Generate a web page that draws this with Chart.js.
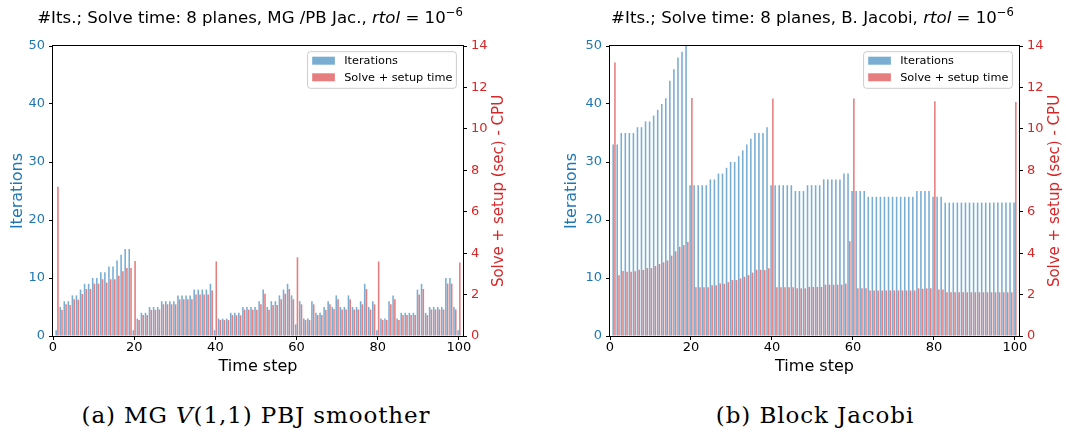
<!DOCTYPE html>
<html>
<head>
<meta charset="utf-8">
<script src="https://cdn.jsdelivr.net/npm/chart.js@4.4.1/dist/chart.umd.min.js"></script>
<style>
  html, body { margin: 0; padding: 0; background: #fff; }
  #wrap { position: relative; width: 1066px; height: 436px; overflow: hidden; }
  .box { position: absolute; top: 0; height: 380px; }
  .cap { position: absolute; top: 400px; font-family: "DejaVu Serif", serif; font-size: 23px; letter-spacing: 0.9px;
         color: #000; white-space: nowrap; transform: translateX(-50%); line-height: 30px; }
</style>
</head>
<body>
<div id="wrap">
  <div class="box" style="left:0;width:533px"><canvas id="chartMG" width="533" height="380"></canvas></div>
  <div class="box" style="left:555px;width:511px"><canvas id="chartBJ" width="511" height="380"></canvas></div>
  <div class="cap" style="left:256px">(a) MG <i>V</i>(1,1) PBJ smoother</div>
  <div class="cap" style="left:815px">(b) Block Jacobi</div>
</div>
<script>
// time steps
var steps = [
  1, 2, 3, 4, 5, 6, 7, 8, 9, 10, 11, 12, 13, 14, 15, 16, 17, 18, 19, 20,
  21, 22, 23, 24, 25, 26, 27, 28, 29, 30, 31, 32, 33, 34, 35, 36, 37, 38, 39, 40,
  41, 42, 43, 44, 45, 46, 47, 48, 49, 50, 51, 52, 53, 54, 55, 56, 57, 58, 59, 60,
  61, 62, 63, 64, 65, 66, 67, 68, 69, 70, 71, 72, 73, 74, 75, 76, 77, 78, 79, 80,
  81, 82, 83, 84, 85, 86, 87, 88, 89, 90, 91, 92, 93, 94, 95, 96, 97, 98, 99, 100
];

// (a) MG V(1,1) PBJ smoother
var mgIterations = [
  1, 5, 6, 6, 7, 7, 8, 9, 9, 10, 10, 11, 11, 12, 12, 13, 14, 15, 15, 1,
  3, 4, 4, 5, 5, 5, 6, 6, 6, 6, 7, 7, 7, 7, 8, 8, 8, 8, 9, 1,
  3, 3, 3, 4, 4, 4, 5, 5, 5, 5, 6, 8, 5, 6, 6, 7, 8, 9, 7, 2,
  6, 3, 3, 6, 4, 4, 5, 6, 5, 7, 5, 5, 7, 5, 5, 6, 9, 5, 6, 1,
  3, 3, 6, 7, 3, 4, 4, 4, 4, 8, 9, 4, 5, 5, 5, 5, 10, 10, 5, 1
];
var mgSolveTime = [
  7.2, 1.26, 1.53, 1.5, 1.77, 1.75, 2.03, 2.27, 2.27, 2.53, 2.53, 2.74, 2.58, 2.74, 2.74, 2.91, 3.12, 3.28, 3.28, 3.62,
  0.77, 1.01, 1.01, 1.26, 1.26, 1.28, 1.53, 1.53, 1.53, 1.53, 1.77, 1.77, 1.77, 1.77, 2.0, 2.0, 2.0, 2.0, 2.2, 3.6,
  0.77, 0.77, 0.77, 1.01, 1.0, 1.0, 1.27, 1.27, 1.27, 1.27, 1.53, 2.04, 1.27, 1.5, 1.5, 1.77, 2.04, 2.27, 1.77, 3.8,
  1.53, 0.77, 0.77, 1.53, 1.01, 1.01, 1.26, 1.53, 1.3, 1.77, 1.28, 1.28, 1.77, 1.28, 1.28, 1.53, 2.27, 1.28, 1.53, 3.6,
  0.77, 0.77, 1.53, 1.77, 0.77, 1.01, 1.01, 1.01, 1.01, 2.0, 2.27, 1.01, 1.28, 1.28, 1.28, 1.28, 2.53, 2.53, 1.28, 3.55
];

// (b) Block Jacobi
var bjIterations = [
  33, 33, 35, 35, 35, 35, 36, 36, 37, 37, 38, 39, 40, 41, 44, 46, 48, 49, 50, 26,
  26, 26, 26, 26, 27, 27, 28, 28, 29, 30, 30, 31, 32, 33, 34, 35, 35, 35, 36, 26,
  26, 26, 26, 26, 26, 25, 25, 25, 26, 26, 26, 26, 27, 27, 27, 27, 27, 28, 28, 25,
  25, 25, 25, 24, 24, 24, 24, 24, 24, 24, 24, 24, 24, 24, 24, 25, 25, 25, 25, 24,
  24, 24, 23, 23, 23, 23, 23, 23, 23, 23, 23, 23, 23, 23, 23, 23, 23, 23, 23, 23
];
var bjSolveTime = [
  13.2, 2.93, 3.14, 3.1, 3.1, 3.12, 3.2, 3.19, 3.28, 3.28, 3.38, 3.48, 3.56, 3.65, 3.88, 4.09, 4.31, 4.39, 4.54, 11.49,
  2.35, 2.35, 2.35, 2.35, 2.45, 2.45, 2.54, 2.52, 2.6, 2.7, 2.7, 2.78, 2.86, 2.94, 3.06, 3.2, 3.2, 3.18, 3.27, 11.46,
  2.35, 2.35, 2.35, 2.35, 2.35, 2.3, 2.3, 2.3, 2.37, 2.37, 2.37, 2.37, 2.48, 2.48, 2.48, 2.48, 2.48, 2.53, 4.58, 11.46,
  2.3, 2.3, 2.3, 2.2, 2.2, 2.2, 2.2, 2.2, 2.2, 2.2, 2.2, 2.2, 2.2, 2.2, 2.2, 2.3, 2.28, 2.3, 2.3, 11.33,
  2.24, 2.24, 2.11, 2.11, 2.11, 2.11, 2.11, 2.11, 2.11, 2.11, 2.11, 2.11, 2.11, 2.11, 2.11, 2.11, 2.11, 2.11, 2.11, 11.3
];

var BLUE = '#1f77b4', RED = '#d62728';
var FONT = '"DejaVu Sans", sans-serif';

function pairs(values) {
  return steps.map(function (s, i) { return { x: s, y: values[i] }; });
}

// matplotlib-like frame, title, right axis label and legend
var figurePlugin = {
  id: 'figure',
  beforeDraw: function (chart) {
    var ctx = chart.ctx;
    ctx.save();
    ctx.fillStyle = '#fff';
    ctx.fillRect(0, 0, chart.width, chart.height);
    ctx.restore();
  },
  afterDraw: function (chart, args, opts) {
    var ctx = chart.ctx, a = chart.chartArea;
    ctx.save();

    // spines
    ctx.strokeStyle = '#000';
    ctx.lineWidth = 1;
    ctx.strokeRect(Math.round(a.left) - 0.5, Math.round(a.top) - 0.5,
                   Math.round(a.right) - Math.round(a.left) + 1, Math.round(a.bottom) - Math.round(a.top) + 1);

    // title: lead text, italic rtol, = 10^-6
    var parts = [
      { t: opts.lead, f: '16.6px ' + FONT, dy: 0 },
      { t: 'rtol', f: 'italic 16.6px ' + FONT, dy: 0 },
      { t: ' = 10', f: '16.6px ' + FONT, dy: 0 },
      { t: '\u22126', f: '11.6px ' + FONT, dy: -7 }
    ];
    var total = 0;
    parts.forEach(function (p) { ctx.font = p.f; p.w = ctx.measureText(p.t).width; total += p.w; });
    var x = (a.left + a.right) / 2 + opts.shift - total / 2;
    ctx.fillStyle = '#000';
    ctx.textBaseline = 'alphabetic';
    ctx.textAlign = 'left';
    parts.forEach(function (p) { ctx.font = p.f; ctx.fillText(p.t, x, 23 + p.dy); x += p.w; });

    // right axis label, reading bottom to top
    ctx.save();
    ctx.translate(a.right + 36.5, (a.top + a.bottom) / 2);
    ctx.rotate(-Math.PI / 2);
    ctx.font = '15px ' + FONT;
    ctx.fillStyle = RED;
    ctx.textAlign = 'center';
    ctx.textBaseline = 'middle';
    ctx.fillText('Solve + setup (sec) - CPU', 0, 0);
    ctx.restore();

    // legend box
    ctx.font = '11.3px ' + FONT;
    var ds = chart.data.datasets;
    var tw = 0;
    ds.forEach(function (d) { tw = Math.max(tw, ctx.measureText(d.label).width); });
    var bw = 4.6 + 22.7 + 9.3 + tw + 4, bh = 36.6;
    var bx = a.right - 6.6 - bw, by = a.top + 5.7;
    ctx.beginPath();
    if (ctx.roundRect) { ctx.roundRect(bx, by, bw, bh, 3); } else { ctx.rect(bx, by, bw, bh); }
    ctx.fillStyle = 'rgba(255,255,255,0.8)';
    ctx.fill();
    ctx.strokeStyle = '#cccccc';
    ctx.lineWidth = 1;
    ctx.stroke();
    ds.forEach(function (d, i) {
      var ry = by + 5 + i * 16.6;
      ctx.fillStyle = d.backgroundColor;
      ctx.fillRect(bx + 4.6, ry, 22.7, 8);
      ctx.fillStyle = '#000';
      ctx.textAlign = 'left';
      ctx.textBaseline = 'middle';
      ctx.fillText(d.label, bx + 4.6 + 22.7 + 9.3, ry + 4.3);
    });
    ctx.restore();
  }
};

function makeChart(id, iters, times, lead, shift, leftW, rightW, leftPad) {
  return new Chart(document.getElementById(id), {
    type: 'bar',
    data: {
      datasets: [
        {
          label: 'Iterations',
          data: pairs(iters),
          yAxisID: 'y',
          backgroundColor: 'rgba(31,119,180,0.6)',
          borderWidth: 0
        },
        {
          label: 'Solve + setup time',
          data: pairs(times),
          yAxisID: 'y1',
          backgroundColor: 'rgba(214,39,40,0.6)',
          borderWidth: 0
        }
      ]
    },
    options: {
      animation: false,
      responsive: false,
      maintainAspectRatio: false,
      categoryPercentage: 0.88,
      barPercentage: 0.88,
      layout: { padding: { top: 46, left: 0, right: 0, bottom: 0 } },
      plugins: {
        legend: { display: false },
        title: { display: false },
        tooltip: { enabled: false },
        figure: { lead: lead, shift: shift }
      },
      scales: {
        x: {
          type: 'linear',
          min: 0,
          max: 101,
          offset: false,
          ticks: {
            stepSize: 20,
            includeBounds: false,
            color: '#000',
            padding: 0,
            maxRotation: 0,
            font: { family: FONT, size: 13 }
          },
          grid: { offset: false, drawOnChartArea: false, color: '#000', tickColor: '#000', tickLength: 4 },
          border: { display: false },
          title: {
            display: true,
            text: 'Time step',
            color: '#000',
            font: { family: FONT, size: 16 },
            padding: { top: 0, bottom: 4 }
          },
          afterFit: function (s) { s.height = 44; }
        },
        y: {
          position: 'left',
          min: 0,
          max: 50,
          ticks: { stepSize: 10, color: BLUE, padding: 4, font: { family: FONT, size: 13 } },
          grid: { drawOnChartArea: false, color: '#000', tickColor: '#000', tickLength: 4 },
          border: { display: false },
          title: {
            display: true,
            text: 'Iterations',
            color: BLUE,
            font: { family: FONT, size: 16 },
            padding: { top: leftPad, bottom: 0 }
          },
          afterFit: function (s) { s.width = leftW; }
        },
        y1: {
          position: 'right',
          min: 0,
          max: 14,
          ticks: { stepSize: 2, color: RED, padding: 4, font: { family: FONT, size: 13 } },
          grid: { drawOnChartArea: false, color: '#000', tickColor: '#000', tickLength: 4 },
          border: { display: false },
          afterFit: function (s) { s.width = rightW; }
        }
      }
    },
    plugins: [figurePlugin]
  });
}

var chartMG = makeChart('chartMG', mgIterations, mgSolveTime,
  '#Its.; Solve time: 8 planes, MG /PB Jac., ', -8, 53, 70, 8);
var chartBJ = makeChart('chartBJ', bjIterations, bjSolveTime,
  '#Its.; Solve time: 8 planes, B. Jacobi, ', -2, 55, 47, 7);
</script>
</body>
</html>
